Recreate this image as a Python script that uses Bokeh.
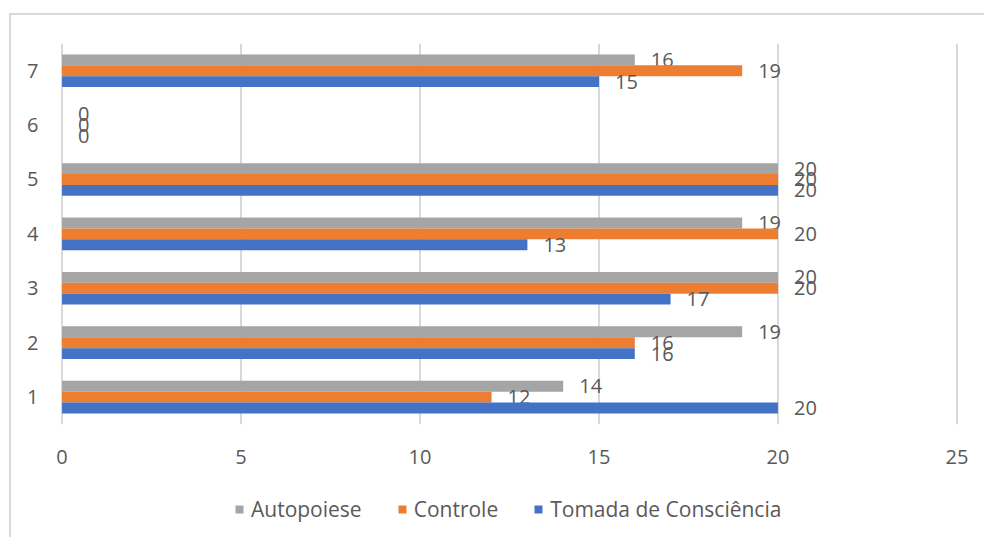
from bokeh.plotting import figure
from bokeh.models import ColumnDataSource, FixedTicker, Legend, LegendItem, Range1d
from bokeh.transform import dodge
from bokeh.core.properties import value
from bokeh.embed import file_html
from bokeh.resources import INLINE

categories = [1, 2, 3, 4, 5, 6, 7]
tomada = [20, 16, 17, 13, 20, 0, 15]
controle = [12, 16, 20, 20, 20, 0, 19]
autopoiese = [14, 19, 20, 19, 20, 0, 16]
x_ticks = [0, 5, 10, 15, 20, 25]

series = [
    ("Autopoiese", autopoiese, "#A5A5A5", 0.2),
    ("Controle", controle, "#ED7D31", 0.0),
    ("Tomada de Consciência", tomada, "#4472C4", -0.2),
]

FONT = "Open Sans"
TXT = "#595959"
Y_LO, Y_HI = 0.5, 7.5

p = figure(width=975, height=524, output_backend="svg", toolbar_location=None,
           x_range=Range1d(-0.49, 25.49), y_range=Range1d(-1.618, Y_HI),
           min_border_left=33, min_border_right=12, min_border_top=28, min_border_bottom=0,
           margin=(13, 0, 0, 9),
           styles={"border-top": "2px solid #D9D9D9", "border-left": "2px solid #D9D9D9"})
p.outline_line_color = None
p.background_fill_color = "white"
p.border_fill_color = "white"

# vertical gridlines limited to the category band
p.segment(x0=x_ticks, x1=x_ticks, y0=[Y_LO] * len(x_ticks), y1=[Y_HI] * len(x_ticks),
          line_color="#D9D9D9", line_width=2)

items = []
for name, vals, color, off in series:
    src = ColumnDataSource(dict(cat=categories, val=vals, lab=[str(v) for v in vals]))
    r = p.hbar(y=dodge("cat", off), right="val", left=0, height=0.2, source=src,
               fill_color=color, line_color=color, line_width=0)
    p.text(x="val", y=dodge("cat", off), text="lab", source=src, x_offset=16,
           text_align="left", text_baseline="middle", text_font=value(FONT),
           text_font_size="20px", text_color=TXT)
    items.append(LegendItem(label=name, renderers=[r]))

p.xaxis.ticker = FixedTicker(ticks=x_ticks)
p.xaxis.fixed_location = Y_LO
p.yaxis.ticker = FixedTicker(ticks=categories)
for ax in (p.xaxis, p.yaxis):
    ax.axis_line_color = None
    ax.major_tick_line_color = None
    ax.minor_tick_line_color = None
    ax.major_label_text_font = FONT
    ax.major_label_text_font_size = "20px"
    ax.major_label_text_color = TXT
p.xaxis.major_label_standoff = 20
p.yaxis.major_tick_out = 0
p.yaxis.major_tick_in = 0
p.yaxis.major_label_standoff = 6

p.xgrid.grid_line_color = None
p.ygrid.grid_line_color = None

legend = Legend(items=items, orientation="horizontal", location=(190, 16),
                label_text_font=FONT, label_text_font_size="21px", label_text_color=TXT,
                glyph_width=10, glyph_height=10, label_standoff=7, spacing=35,
                label_height=20, padding=0, margin=0, border_line_color=None,
                background_fill_alpha=0)
p.add_layout(legend)

open("out.html", "w").write(file_html(p, INLINE))
